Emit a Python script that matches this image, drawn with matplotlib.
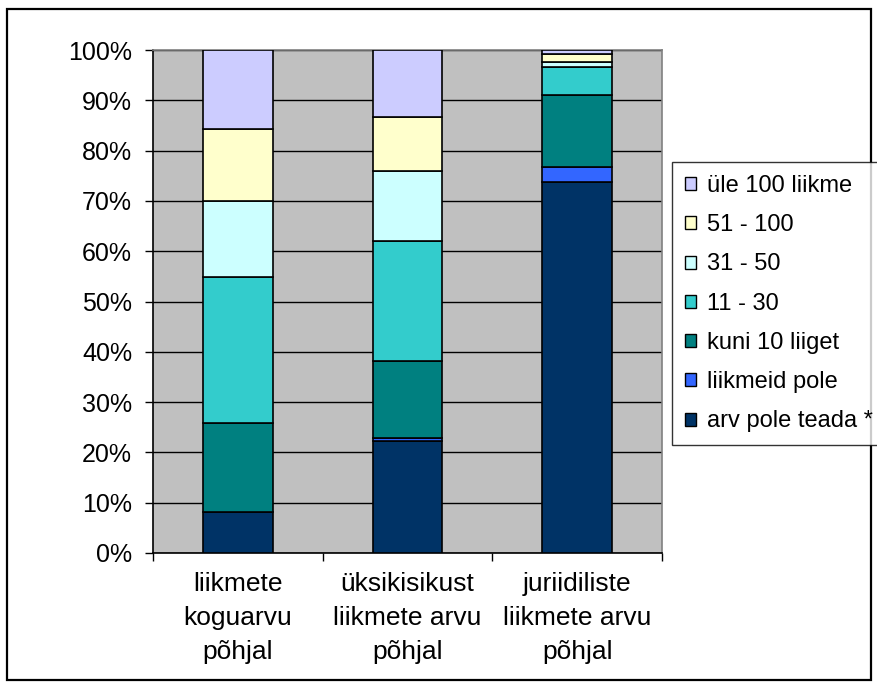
import matplotlib
matplotlib.use("Agg")
import matplotlib.pyplot as plt
from matplotlib.patches import Rectangle, Patch
from matplotlib.ticker import FixedLocator, NullFormatter

plt.rcParams['font.family'] = ['Liberation Sans', 'DejaVu Sans']

categories = ["liikmete\nkoguarvu\npõhjal",
              "üksikisikust\nliikmete arvu\npõhjal",
              "juriidiliste\nliikmete arvu\npõhjal"]
series_names = ["arv pole teada *", "liikmeid pole", "kuni 10 liiget",
                "11 - 30", "31 - 50", "51 - 100", "üle 100 liikme"]
arv_pole_teada = [8.1, 22.2, 73.7]
liikmeid_pole = [0.0, 0.7, 3.1]
kuni_10 = [17.8, 15.2, 14.3]
v11_30 = [28.9, 23.9, 5.5]
v31_50 = [15.2, 13.9, 1.1]
v51_100 = [14.3, 10.8, 1.6]
yle_100 = [15.7, 13.3, 0.7]
colors = ["#003366", "#3366FF", "#008080", "#33CCCC", "#CCFFFF", "#FFFFCC", "#CCCCFF"]
yticklabels = ["0%", "10%", "20%", "30%", "40%", "50%", "60%", "70%", "80%", "90%", "100%"]

series = [arv_pole_teada, liikmeid_pole, kuni_10, v11_30, v31_50, v51_100, yle_100]

fig = plt.figure(figsize=(8.78, 6.88), dpi=100)
fig.patch.set_facecolor("white")
ax = fig.add_axes([153/878, 1-553/688, 509/878, 503/688])
ax.set_facecolor("#C0C0C0")

x = list(range(len(categories)))
bottoms = [0.0] * len(categories)
handles = []
for name, vals, col in zip(series_names, series, colors):
    ax.bar(x, vals, width=0.41, bottom=bottoms, color=col, edgecolor="black",
           linewidth=1.2, zorder=3)
    bottoms = [b + v for b, v in zip(bottoms, vals)]
    handles.append(Patch(facecolor=col, edgecolor="black", linewidth=1.0, label=name))

ax.set_xlim(-0.5, 2.5)
ax.set_ylim(0, 100)
ax.set_yticks(range(0, 101, 10))
ax.set_yticklabels(yticklabels, fontsize=18)
ax.yaxis.grid(True, color="black", linewidth=1.0, zorder=1)
ax.set_axisbelow(True)
ax.set_xticks(x)
ax.set_xticklabels(categories, fontsize=19, linespacing=1.52)
ax.tick_params(axis="x", which="major", length=0, pad=14)
ax.xaxis.set_minor_locator(FixedLocator([-0.5, 0.5, 1.5, 2.5]))
ax.xaxis.set_minor_formatter(NullFormatter())
ax.tick_params(axis="x", which="minor", length=6, width=1, color="black")
ax.tick_params(axis="y", length=6, width=1, pad=9, color="black")

for s in ["top", "right"]:
    ax.spines[s].set_color("#808080")
    ax.spines[s].set_linewidth(1.2)
for s in ["left", "bottom"]:
    ax.spines[s].set_color("black")
    ax.spines[s].set_linewidth(1.2)

leg = fig.legend(handles[::-1], series_names[::-1], loc="upper left",
                 bbox_to_anchor=(672/878, 1-162/688), fontsize=17,
                 handlelength=0.47, handleheight=0.47, handletextpad=0.45,
                 labelspacing=0.73, borderpad=0.55, borderaxespad=0,
                 frameon=True, fancybox=False)
leg.get_frame().set_edgecolor("black")
leg.get_frame().set_linewidth(1.0)
leg.get_frame().set_facecolor("white")

fig.patches.append(Rectangle((7/878, 1-680/688), 864/878, 671/688,
                             transform=fig.transFigure, fill=False,
                             edgecolor="black", linewidth=1.6))

fig.savefig("out.png", dpi=100)
